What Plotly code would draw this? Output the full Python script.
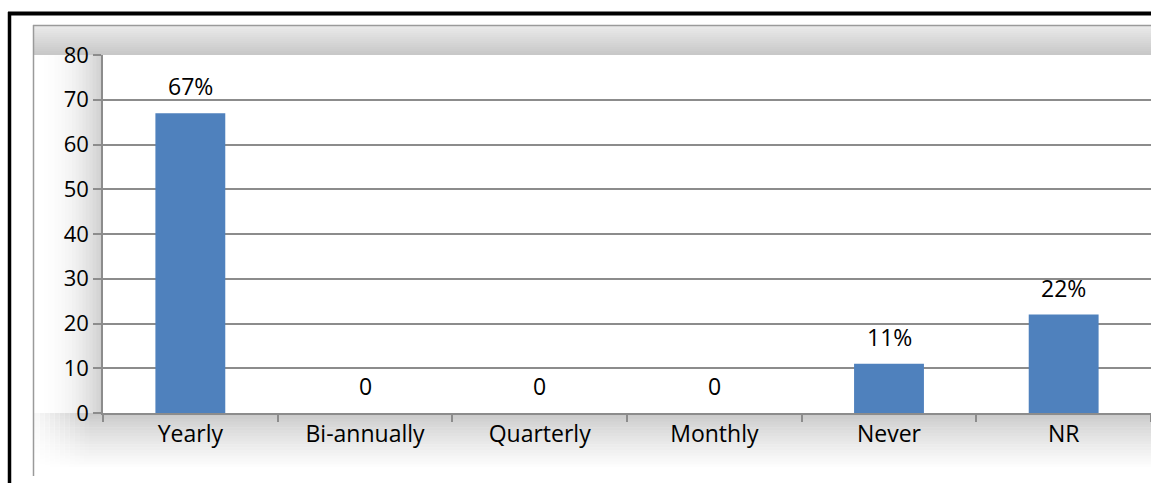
import plotly.graph_objects as go

categories = ["Yearly", "Bi-annually", "Quarterly", "Monthly", "Never", "NR"]
values = [67, 0, 0, 0, 11, 22]
labels = ["67%", "0", "0", "0", "11%", "22%"]
y_ticks = [0, 10, 20, 30, 40, 50, 60, 70, 80]

W, H = 1151, 483
ML, MR, MT, MB = 103, 0, 55, 70
PW, PH = W - ML - MR, H - MT - MB

def px(x):
    return (x - ML) / PW

def py(y):
    return (H - MB - y) / PH

FONT = "Open Sans"

fig = go.Figure()
fig.add_trace(go.Bar(
    x=categories, y=values, width=0.4,
    marker=dict(color="#4F81BD", line=dict(width=0)),
    hoverinfo="skip",
))

for c, v, t in zip(categories, values, labels):
    fig.add_annotation(x=c, y=v, text=t, showarrow=False, yanchor="bottom",
                       yshift=9, font=dict(family=FONT, size=23, color="#000"))

shapes = []

def rect(x0, y0, x1, y1, color, layer="below"):
    shapes.append(dict(type="rect", xref="paper", yref="paper",
                       x0=px(x0), x1=px(x1), y0=py(y0), y1=py(y1),
                       fillcolor=color, line=dict(width=0), layer=layer))

def lerp(c0, c1, t):
    return "rgb(%d,%d,%d)" % tuple(int(round(a + (b - a) * t)) for a, b in zip(c0, c1))

# top band gradient (y 25..55)
n = 15
for i in range(n):
    y0 = 25 + i * 30 / n
    rect(33, y0, W, min(y0 + 30 / n + 0.5, 55), lerp((234, 234, 234), (200, 200, 200), i / (n - 1)))
# left band gradient (x 33..103), horizontal
n = 20
for i in range(n):
    x0 = 34 + i * 69 / n
    t = (i / (n - 1)) ** 2.2
    rect(x0, 55, min(x0 + 69 / n + 0.5, 103), 413, lerp((255, 255, 255), (208, 208, 208), t))
# bottom band gradient (y 413..470)
n = 20
for i in range(n):
    y0 = 413 + i * 57 / n
    t = i / (n - 1)
    rect(34, y0, W, y0 + 57 / n + 0.5, lerp((200, 200, 200), (255, 255, 255), t ** 0.8))
# fade bottom-left corner
n = 12
for i in range(n):
    x0 = 34 + i * 60 / n
    t = i / (n - 1)
    shapes.append(dict(type="rect", xref="paper", yref="paper",
                       x0=px(x0), x1=px(x0 + 60 / n + 0.5), y0=py(413), y1=py(478),
                       fillcolor="rgba(255,255,255,%.2f)" % (0.85 * (1 - t)), line=dict(width=0), layer="below"))

# frame lines
shapes.append(dict(type="line", xref="paper", yref="paper", x0=px(33), x1=px(W),
                   y0=py(25.5), y1=py(25.5), line=dict(color="#9a9a9a", width=1.5), layer="above"))
shapes.append(dict(type="line", xref="paper", yref="paper", x0=px(33.5), x1=px(33.5),
                   y0=py(25), y1=py(476), line=dict(color="#9a9a9a", width=1.5), layer="above"))
# black border
shapes.append(dict(type="line", xref="paper", yref="paper", x0=px(8), x1=px(W),
                   y0=py(13.5), y1=py(13.5), line=dict(color="#000", width=4), layer="above"))
shapes.append(dict(type="line", xref="paper", yref="paper", x0=px(9.5), x1=px(9.5),
                   y0=py(12), y1=py(H), line=dict(color="#000", width=3.5), layer="above"))

fig.update_layout(
    width=W, height=H, autosize=False,
    margin=dict(l=ML, r=MR, t=MT, b=MB, pad=0),
    paper_bgcolor="#FFFFFF", plot_bgcolor="#FFFFFF",
    showlegend=False, bargap=0.6,
    shapes=shapes,
    font=dict(family=FONT, size=23, color="#000"),
    xaxis=dict(
        type="category", tickson="boundaries", ticks="outside", ticklen=7,
        tickcolor="#8c8c8c", tickwidth=1.5, showline=True, linecolor="#8c8c8c", linewidth=1.5,
        showgrid=False, automargin=False, range=[-0.5, 5.5],
        tickfont=dict(family=FONT, size=23, color="#000"),
    ),
    yaxis=dict(
        range=[0, 80], tickvals=y_ticks, ticks="outside", ticklen=8,
        tickcolor="#8c8c8c", tickwidth=1.5, showline=True, linecolor="#8c8c8c", linewidth=1.5,
        showgrid=True, gridcolor="#8c8c8c", gridwidth=1.5, zeroline=False,
        automargin=False, ticksuffix="\u2002\u2002",
        tickfont=dict(family=FONT, size=22, color="#000"),
    ),
)

fig.write_html("out.html", config={"displayModeBar": False},
               post_script="document.body.style.margin='0';document.body.style.overflow='hidden';")
